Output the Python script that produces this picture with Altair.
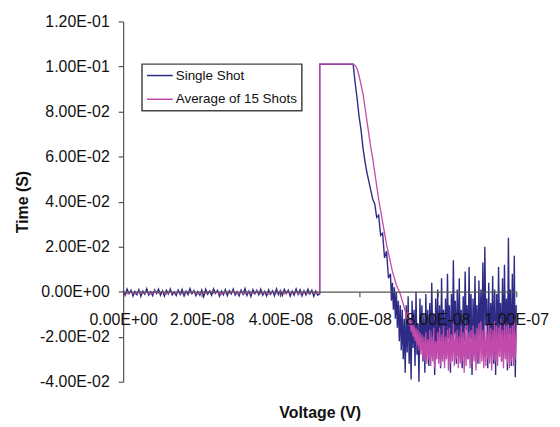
import altair as alt
import numpy as np
import pandas as pd

series_names = ["Single Shot", "Average of 15 Shots"]
series_colors = ["#2e2b86", "#c24aab"]

x_ticks = [0, 2e-8, 4e-8, 6e-8, 8e-8, 1e-7]
y_ticks = [-0.04, -0.02, 0.0, 0.02, 0.04, 0.06, 0.08, 0.10, 0.12]

# sampling clock (ns)
t_ss_base = np.arange(0.0, 50.0, 0.5)       # 100 samples
t_av_base = np.arange(0.0, 50.0, 1.0)       # 50 samples
t_step = [50.0, 50.0]
t_ss_drop = np.arange(58.5, 68.0, 0.5)      # 19 samples
t_ss_tail = np.arange(68.0, 100.01, 0.25)   # 129 samples
t_av_drop = np.arange(58.5, 72.01, 0.5)     # 28 samples
t_av_tail = np.arange(72.25, 100.01, 0.25)  # 112 samples

# ---- Single Shot values ----
ss_base = [
    0.0005, -0.0015, 0.0012, -0.0009, 0.0007, -0.0019, 0.0001, -0.0013, 0.0009, -0.0021,
    0.0003, -0.0011, 0.0013, -0.0015, 0.0000, -0.0018, 0.0008, -0.0008, 0.0011, -0.0016,
    0.0004, -0.0020, 0.0006, -0.0010, 0.0012, -0.0014, -0.0001, -0.0017, 0.0007, -0.0012,
    0.0010, -0.0019, 0.0002, -0.0013, 0.0014, -0.0009, 0.0005, -0.0018, 0.0001, -0.0015,
    0.0008, -0.0022, 0.0011, -0.0011, 0.0003, -0.0016, 0.0013, -0.0007, 0.0006, -0.0020,
    0.0002, -0.0014, 0.0009, -0.0018, 0.0005, -0.0010, 0.0012, -0.0015, 0.0000, -0.0019,
    0.0007, -0.0012, 0.0014, -0.0017, 0.0003, -0.0021, 0.0009, -0.0009, 0.0006, -0.0014,
    0.0011, -0.0016, 0.0001, -0.0019, 0.0008, -0.0011, 0.0004, -0.0018, 0.0013, -0.0013,
    0.0005, -0.0017, 0.0010, -0.0008, 0.0007, -0.0020, 0.0002, -0.0015, 0.0012, -0.0012,
    0.0009, -0.0019, 0.0004, -0.0014, 0.0011, -0.0010, 0.0006, -0.0021, 0.0003, -0.0016,
]
ss_step = [-0.001, 0.101]
ss_drop = [0.101, 0.093, 0.086, 0.078, 0.072, 0.064, 0.058, 0.053, 0.049, 0.045,
           0.041, 0.039, 0.033, 0.034, 0.025, 0.026, 0.015, 0.018, 0.006]
ss_tail = [
    0.008, -0.004, 0.004, -0.008,
    0.002, -0.012, 0.000, -0.016,
    -0.004, -0.022, -0.006, -0.026,
    -0.008, -0.030, -0.012, -0.036,
    -0.006, -0.027, -0.002, -0.032,
    -0.012, -0.039, -0.004, -0.025,
    -0.008, -0.033, 0.000, -0.028,
    -0.014, -0.040, -0.003, -0.023,
    -0.006, -0.031, -0.010, -0.036,
    -0.001, -0.026, -0.008, -0.033,
    -0.005, -0.028, 0.004, -0.022,
    -0.010, -0.037, -0.003, -0.026,
    0.001, -0.030, -0.006, -0.034,
    0.006, -0.024, -0.008, -0.031,
    -0.003, -0.028, 0.008, -0.021,
    -0.006, -0.036, -0.001, -0.026,
    0.014, -0.019, -0.004, -0.032,
    0.001, -0.028, 0.006, -0.024,
    -0.008, -0.034, -0.002, -0.022,
    0.009, -0.017, -0.006, -0.030,
    0.011, -0.021, -0.001, -0.037,
    -0.003, -0.028, 0.007, -0.023,
    -0.006, -0.032, 0.005, -0.026,
    0.001, -0.025, 0.013, -0.029,
    0.020, -0.015, -0.003, -0.034,
    0.004, -0.028, -0.005, -0.023,
    0.007, -0.032, 0.001, -0.037,
    -0.001, -0.027, 0.011, -0.021,
    -0.005, -0.031, 0.006, -0.028,
    0.012, -0.024, -0.003, -0.035,
    0.024, -0.019, 0.001, -0.033,
    0.008, -0.029, 0.016, -0.038,
    -0.006,
]

# ---- Average of 15 Shots values ----
av_base = [
    0.0001, -0.0009, -0.0001, -0.0011, 0.0002, -0.0007, -0.0002, -0.0010, 0.0003, -0.0006,
    0.0000, -0.0011, 0.0001, -0.0008, -0.0001, -0.0009, 0.0002, -0.0005, 0.0000, -0.0010,
    -0.0002, -0.0008, 0.0003, -0.0007, -0.0001, -0.0011, 0.0001, -0.0006, 0.0002, -0.0009,
    -0.0001, -0.0010, 0.0000, -0.0007, 0.0003, -0.0008, -0.0002, -0.0011, 0.0001, -0.0006,
    0.0002, -0.0009, -0.0001, -0.0007, 0.0000, -0.0010, 0.0001, -0.0008, -0.0001, -0.0006,
]
av_step = [-0.0005, 0.101]
av_drop = [0.101, 0.1005, 0.099, 0.096, 0.092, 0.088, 0.082, 0.076, 0.070, 0.064,
           0.059, 0.053, 0.047, 0.041, 0.036, 0.031, 0.026, 0.021, 0.017, 0.013,
           0.009, 0.006, 0.003, 0.001, -0.001, -0.004, -0.007, -0.010]
av_tail = [
    -0.012, -0.009, -0.015,
    -0.012, -0.018, -0.013, -0.020,
    -0.015, -0.022, -0.016, -0.024,
    -0.017, -0.026, -0.018, -0.028,
    -0.019, -0.030, -0.020, -0.031,
    -0.018, -0.032, -0.021, -0.030,
    -0.017, -0.033, -0.020, -0.031,
    -0.016, -0.034, -0.022, -0.030,
    -0.018, -0.032, -0.016, -0.033,
    -0.019, -0.031, -0.015, -0.034,
    -0.020, -0.030, -0.017, -0.035,
    -0.016, -0.032, -0.019, -0.031,
    -0.014, -0.033, -0.018, -0.030,
    -0.017, -0.034, -0.020, -0.032,
    -0.015, -0.031, -0.018, -0.036,
    -0.016, -0.033, -0.014, -0.030,
    -0.018, -0.034, -0.017, -0.032,
    -0.015, -0.031, -0.019, -0.035,
    -0.016, -0.030, -0.014, -0.032,
    -0.013, -0.031, -0.017, -0.034,
    -0.015, -0.033, -0.018, -0.030,
    -0.014, -0.032, -0.016, -0.035,
    -0.017, -0.030, -0.013, -0.031,
    -0.015, -0.033, -0.016, -0.029,
    -0.012, -0.031, -0.017, -0.034,
    -0.014, -0.030, -0.015, -0.032,
    -0.013, -0.034, -0.016, -0.031,
    -0.015, -0.033, -0.012, -0.030,
    -0.018,
]


def make_df(name, ts, vs):
    t = np.concatenate([np.asarray(x, dtype=float) for x in ts])
    v = np.concatenate([np.asarray(x, dtype=float) for x in vs])
    return pd.DataFrame({"t": t * 1e-9, "v": v, "series": name, "i": np.arange(len(t))})


df_ss = make_df(series_names[0], [t_ss_base, t_step, t_ss_drop, t_ss_tail],
                [ss_base, ss_step, ss_drop, ss_tail])
df_av = make_df(series_names[1], [t_av_base, t_step, t_av_drop, t_av_tail],
                [av_base, av_step, av_drop, av_tail])

FONT = "Liberation Sans, Arial, sans-serif"
label_expr = ("replace(replace(replace(format(datum.value, '.2e'), 'e-', 'E-0'), "
              "'e+', 'E+0'), '\u2212', '-')")

color_scale = alt.Scale(domain=series_names, range=series_colors)
legend = alt.Legend(
    title=None, orient="none", legendX=19, legendY=43,
    symbolType="stroke", symbolSize=676, symbolStrokeWidth=1.5,
    clipHeight=15,
    labelFont=FONT, labelFontSize=13.5, labelColor="#111",
    labelOffset=2, padding=4, rowPadding=9,
    strokeColor="#444", fillColor="white",
)

x_enc = alt.X(
    "t:Q",
    scale=alt.Scale(domain=[0, 1e-7], nice=False, zero=False),
    axis=alt.Axis(
        title="Voltage (V)", values=x_ticks, labelExpr=label_expr,
        offset=-90.75, tickSize=5, labelPadding=15, labelFlush=False,
        labelOverlap=False, labelBound=False, grid=False, zindex=1,
        titleY=127, titleBaseline="alphabetic",
    ),
)
y_enc = alt.Y(
    "v:Q",
    scale=alt.Scale(domain=[-0.04, 0.12], nice=False, zero=False),
    axis=alt.Axis(
        title="Time (S)", values=y_ticks, labelExpr=label_expr,
        tickSize=5, labelPadding=9, grid=False,
        titleX=-96, titleBaseline="alphabetic",
    ),
)

ss_line = alt.Chart(df_ss).mark_line(strokeWidth=1.4).encode(
    x=x_enc, y=y_enc, order=alt.Order("i:Q"),
    color=alt.Color("series:N", scale=color_scale, legend=legend),
)
av_line = alt.Chart(df_av).mark_line(strokeWidth=1.3).encode(
    x=x_enc, y=y_enc, order=alt.Order("i:Q"),
    color=alt.Color("series:N", scale=color_scale, legend=legend),
)

chart = (
    alt.layer(ss_line, av_line)
    .properties(
        width=396, height=363,
        autosize=alt.AutoSizeParams(type="none"),
        padding={"left": 116, "top": 12, "right": 36, "bottom": 42},
    )
    .configure_view(stroke=None)
    .configure_axis(
        labelFont=FONT, labelFontSize=16, labelColor="#111",
        titleFont=FONT, titleFontSize=16, titleFontWeight="bold", titleColor="#111",
        domainColor="#555", tickColor="#555", domainWidth=1.2, tickWidth=1.2,
    )
    .configure_legend(strokeWidth=1.5)
)

chart.save("out.html", embed_options={"renderer": "svg", "actions": False})
